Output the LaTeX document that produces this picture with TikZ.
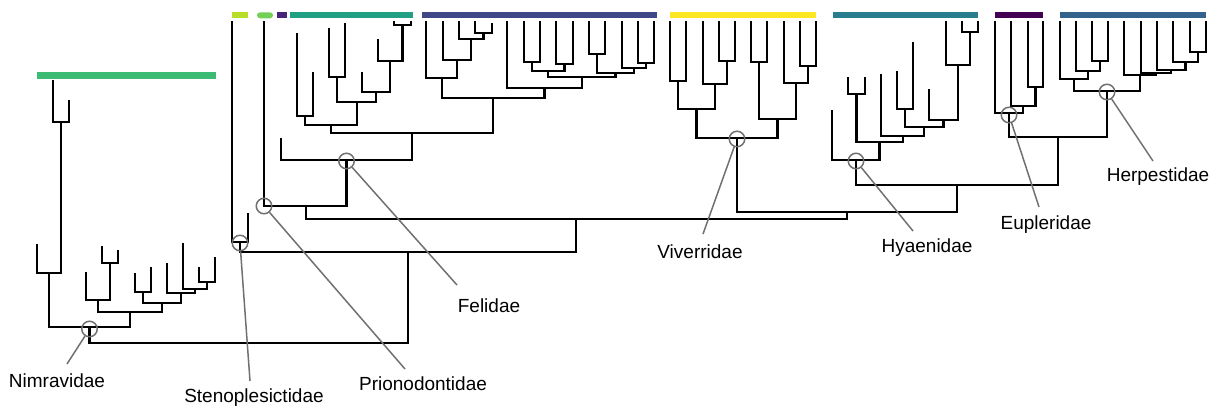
\documentclass[tikz,border=0pt]{standalone}
\usepackage{fontspec}
\setmainfont{Liberation Sans}
\definecolor{cNim}{HTML}{3CBB75}
\definecolor{cLime}{HTML}{B8DE29}
\definecolor{cLgreen}{HTML}{73D055}
\definecolor{cPurple}{HTML}{482677}
\definecolor{cTealA}{HTML}{22A084}
\definecolor{cBlueA}{HTML}{404788}
\definecolor{cYellow}{HTML}{FDE725}
\definecolor{cTealB}{HTML}{287D8E}
\definecolor{cDpurple}{HTML}{440154}
\definecolor{cBlueB}{HTML}{33638D}
\definecolor{ptr}{HTML}{707070}
\newcommand{\cl}[5]{\draw[branch] (#1,#2) -- (#1,#5) -- (#3,#5) -- (#3,#4);}
\tikzset{
  branch/.style={line width=2.2pt, black, line join=miter},
  famcirc/.style={circle, draw=ptr, line width=1.5pt, minimum size=15.5pt, inner sep=0pt},
  pointer/.style={draw=ptr, line width=1.5pt},
  famlabel/.style={inner sep=0pt, font=\fontsize{19}{22}\selectfont, text=black},
}
\begin{document}
\begin{tikzpicture}[x=1pt,y=-1pt]
\useasboundingbox (0,0) rectangle (1217,410);
% bars
\fill[cNim] (37,72) rectangle (216,78.5);
\fill[cLime] (232,12.3) rectangle (248,18.3);
\fill[cLgreen, rounded corners=3pt] (257,12.3) rectangle (273,18.3);
\fill[cPurple] (277,12.3) rectangle (287,18.3);
\fill[cTealA] (290,12.3) rectangle (413,18.3);
\fill[cBlueA] (422,12.3) rectangle (657,18.3);
\fill[cYellow] (670,12.3) rectangle (816,18.3);
\fill[cTealB] (833,12.3) rectangle (978,18.3);
\fill[cDpurple] (995,12.3) rectangle (1043,18.3);
\fill[cBlueB] (1060,12.3) rectangle (1206,18.3);
% Nimravidae
\cl{53}{80}{69}{100}{122}
\cl{37}{244}{61}{122}{273}
\cl{102}{246}{118}{250}{263}
\cl{86}{272}{110}{263}{300}
\cl{135}{273}{151}{267}{292}
\cl{199}{267}{215}{257}{282}
\cl{183}{243}{207}{282}{289}
\cl{167}{263}{195}{289}{293}
\cl{143}{292}{181}{293}{303}
\cl{98}{300}{162}{303}{312}
\cl{49}{273}{130}{312}{327}
\cl{89.5}{327}{408}{252}{343}
% Stenoplesictidae and backbone
\cl{232}{21}{248}{213}{242}
\cl{240}{242}{576}{219}{252}
\cl{306}{206}{847}{212}{219}
\cl{264}{21}{346.5}{160}{206}
% Felidae group
\cl{297}{33}{313}{72}{116}
\cl{329}{28}{345}{23}{77}
\cl{394}{21}{411}{21}{25}
\cl{378}{39}{402.5}{25}{61}
\cl{362}{72}{390.25}{61}{92}
\cl{337}{77}{376.1}{92}{102}
\cl{305}{116}{356.6}{102}{125}
\cl{475}{21}{492}{23}{33}
\cl{459}{21}{483.5}{33}{39}
\cl{443}{21}{471.25}{39}{60}
\cl{426}{21}{457.1}{60}{78}
\cl{524}{21}{540}{21}{62}
\cl{556}{21}{573}{21}{64}
\cl{532}{62}{564.5}{64}{71}
\cl{589}{21}{605}{21}{54}
\cl{638}{21}{654}{21}{63}
\cl{622}{21}{646}{63}{68}
\cl{597}{54}{634}{68}{73}
\cl{548.25}{71}{615.5}{73}{77}
\cl{507}{21}{581.9}{77}{88}
\cl{441.6}{78}{544.4}{88}{98}
\cl{330.8}{125}{493}{98}{133}
\cl{281}{138}{411.9}{133}{160}
% Viverridae
\cl{670}{21}{686}{21}{81}
\cl{719}{21}{735}{21}{61}
\cl{703}{21}{727}{61}{84}
\cl{678}{81}{715}{84}{109}
\cl{751}{21}{767}{21}{62}
\cl{800}{21}{816}{21}{66}
\cl{784}{21}{808}{66}{83}
\cl{759}{62}{796}{83}{119}
\cl{696.5}{109}{777.5}{119}{138}
\cl{737}{138}{957}{185}{212}
% Hyaenidae
\cl{848}{77}{865}{77}{94}
\cl{897}{71}{913}{42}{109}
\cl{962}{21}{978}{21}{32}
\cl{946}{21}{970}{32}{65}
\cl{929}{89}{958}{65}{120}
\cl{905}{109}{943.5}{120}{127}
\cl{881}{74}{924.25}{127}{136}
\cl{856.5}{94}{902.6}{136}{142}
\cl{832}{110}{879.5}{142}{160}
\cl{855.8}{160}{1058}{137}{185}
% Eupleridae
\cl{1028}{21}{1043}{21}{87}
\cl{1011}{21}{1035.5}{87}{106}
\cl{995}{21}{1023.25}{106}{113}
% Herpestidae
\cl{1092}{21}{1108}{21}{61}
\cl{1076}{21}{1100}{61}{71}
\cl{1060}{21}{1088}{71}{79}
\cl{1190}{21}{1206}{21}{52}
\cl{1173}{21}{1198}{52}{62}
\cl{1157}{21}{1185.5}{62}{70}
\cl{1141}{21}{1171.25}{70}{73}
\cl{1124}{21}{1156.1}{73}{75}
\cl{1074}{79}{1140}{75}{91}
\cl{1009.1}{113}{1107}{91}{137}
% family circles
\node[famcirc] (cNimr) at (89.5,329) {};
\node[famcirc] (cSten) at (240,243) {};
\node[famcirc] (cPrio) at (264,206) {};
\node[famcirc] (cFeli) at (346.5,161) {};
\node[famcirc] (cVive) at (737,139) {};
\node[famcirc] (cHyae) at (856,161) {};
\node[famcirc] (cEupl) at (1009,115) {};
\node[famcirc] (cHerp) at (1107,92) {};
% labels
\node[famlabel] (lNimr) at (57,381) {Nimravidae};
\node[famlabel] (lSten) at (254,398) {Stenoplesictidae};
\node[famlabel] (lPrio) at (423,384) {Prionodontidae};
\node[famlabel] (lFeli) at (489,306) {Felidae};
\node[famlabel] (lVive) at (700,252) {Viverridae};
\node[famlabel] (lHyae) at (927,248) {Hyaenidae};
\node[famlabel] (lEupl) at (1046,225) {Eupleridae};
\node[famlabel] (lHerp) at (1158,177) {Herpestidae};
% pointer ends
\coordinate (eNimr) at (67,364);
\coordinate (eSten) at (250,381);
\coordinate (ePrio) at (405,369);
\coordinate (eFeli) at (457,285);
\coordinate (eVive) at (703,234);
\coordinate (eHyae) at (913,231);
\coordinate (eEupl) at (1039,207);
\coordinate (eHerp) at (1153,161);
\draw[pointer] (cNimr) -- (eNimr);
\draw[pointer] (cSten) -- (eSten);
\draw[pointer] (cPrio) -- (ePrio);
\draw[pointer] (cFeli) -- (eFeli);
\draw[pointer] (cVive) -- (eVive);
\draw[pointer] (cHyae) -- (eHyae);
\draw[pointer] (cEupl) -- (eEupl);
\draw[pointer] (cHerp) -- (eHerp);
\end{tikzpicture}
\end{document}
